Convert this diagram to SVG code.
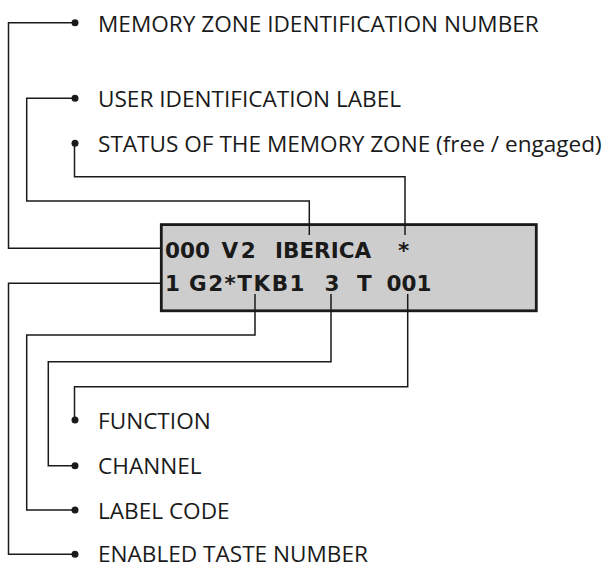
<svg xmlns="http://www.w3.org/2000/svg" width="606" height="565" viewBox="0 0 606 565">
  <style>
    .lbl { font-family: "Open Sans", "Liberation Sans", sans-serif; font-size: 22.6px; fill: #1a1a1a; }
    .lcd { font-family: "DejaVu Sans", "Liberation Sans", sans-serif; font-size: 21.5px; font-weight: bold; fill: #1a1a1a; }
    .wire { fill: none; stroke: #1a1a1a; stroke-width: 1.5; }
    .dot { fill: #1a1a1a; }
  </style>
  <rect width="606" height="565" fill="#ffffff"/>

  <!-- display panel -->
  <g id="display">
    <rect x="161.3" y="224.6" width="375" height="86.2" fill="#cdcdcd" stroke="#1a1a1a" stroke-width="2.8"/>
    <text class="lcd" y="258"><tspan x="165">000</tspan><tspan x="221.5" letter-spacing="2.5">V2</tspan><tspan x="275">IBERICA</tspan><tspan x="398">*</tspan></text>
    <text class="lcd" y="290.5"><tspan x="165">1</tspan><tspan x="189" letter-spacing="1.5">G2*TKB1</tspan><tspan x="324.5">3</tspan><tspan x="357">T</tspan><tspan x="386.5">001</tspan></text>
  </g>

  <!-- leader lines -->
  <g id="connectors">
    <polyline class="wire" points="75,22.7 8.5,22.7 8.5,248.3 161,248.3"/>
    <polyline class="wire" points="75,98.3 26.7,98.3 26.7,201 309.3,201 309.3,235"/>
    <polyline class="wire" points="74.5,143.3 74.5,176.7 405,176.7 405,235"/>
    <polyline class="wire" points="161,283.3 8.5,283.3 8.5,554.3 75,554.3"/>
    <polyline class="wire" points="255,294 255,335 26.7,335 26.7,510 75,510"/>
    <polyline class="wire" points="331,294 331,361.7 48.3,361.7 48.3,465.7 75,465.7"/>
    <polyline class="wire" points="407.7,294 407.7,386.7 74.5,386.7 74.5,420"/>
  </g>

  <g id="memory-zone-id">
    <circle class="dot" cx="75" cy="22.7" r="3.5"/>
    <text class="lbl" x="98" y="31.5">MEMORY ZONE IDENTIFICATION NUMBER</text>
  </g>
  <g id="user-label">
    <circle class="dot" cx="75" cy="98.3" r="3.5"/>
    <text class="lbl" x="98" y="106.5">USER IDENTIFICATION LABEL</text>
  </g>
  <g id="zone-status">
    <circle class="dot" cx="75" cy="143.3" r="3.5"/>
    <text class="lbl" x="98" y="151.7">STATUS OF THE MEMORY ZONE (free / engaged)</text>
  </g>
  <g id="function">
    <circle class="dot" cx="75" cy="420" r="3.5"/>
    <text class="lbl" x="98" y="428.8">FUNCTION</text>
  </g>
  <g id="channel">
    <circle class="dot" cx="75" cy="465.7" r="3.5"/>
    <text class="lbl" x="98" y="474.3">CHANNEL</text>
  </g>
  <g id="label-code">
    <circle class="dot" cx="75" cy="510" r="3.5"/>
    <text class="lbl" x="98" y="518.8">LABEL CODE</text>
  </g>
  <g id="taste-number">
    <circle class="dot" cx="75" cy="554.3" r="3.5"/>
    <text class="lbl" x="98" y="561.5">ENABLED TASTE NUMBER</text>
  </g>
</svg>
